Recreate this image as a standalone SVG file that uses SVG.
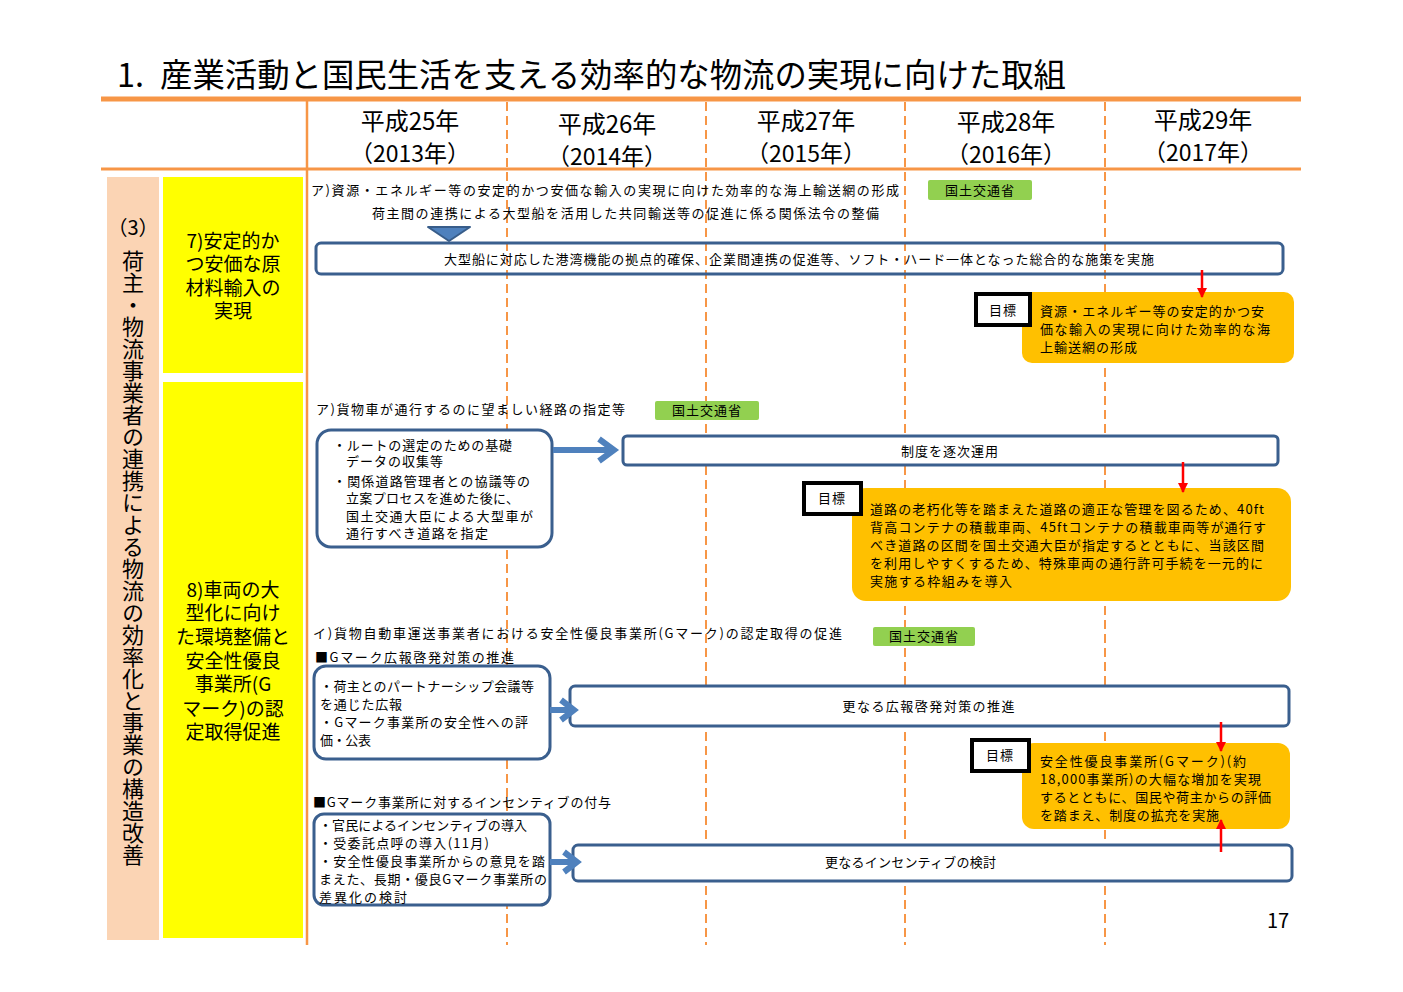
<svg xmlns="http://www.w3.org/2000/svg" width="1403" height="992" viewBox="0 0 1403 992">
<defs>
<style>
text{font-family:"Noto Sans CJK JP","Noto Sans",sans-serif;fill:#000}
.t{font-size:13px;letter-spacing:1px}
.c{text-anchor:middle}
.yr{font-size:24px;text-anchor:middle}
.yp{font-size:23px;text-anchor:middle}
.yl{font-size:19px;text-anchor:middle}
.grid{stroke:#F79646;fill:none}
.dash{stroke:#F79646;stroke-width:2;stroke-dasharray:9 5}
.bar{fill:#fff;stroke:#3A5F8E;stroke-width:3}
.gov{fill:#92D050}
.goal{fill:#FFC000}
.tag{fill:#fff;stroke:#000;stroke-width:4}
.red{stroke:#FF0000;stroke-width:2.5;fill:none}
.blu{stroke:#4F81BD;stroke-width:6;fill:none}
</style>
<marker id="ra" viewBox="0 0 10 10" refX="9" refY="5" markerWidth="10" markerHeight="10" markerUnits="userSpaceOnUse" orient="auto">
<path d="M0,0 L10,5 L0,10 z" fill="#FF0000"/>
</marker>
</defs>
<rect x="0" y="0" width="1403" height="992" fill="#fff"/>

<g id="title">
<text font-size="32.4"><tspan x="117" y="87">1.</tspan><tspan x="160" y="87">産業活動と国民生活を支える効率的な物流の実現に向けた取組</tspan></text>
</g>

<g id="grid">
<line class="grid" x1="101" y1="99" x2="1301" y2="99" stroke-width="5"/>
<line class="grid" x1="101" y1="169" x2="1301" y2="169" stroke-width="3"/>
<line class="grid" x1="307" y1="101" x2="307" y2="945" stroke-width="2.5"/>
<line class="dash" x1="507" y1="102" x2="507" y2="945"/>
<line class="dash" x1="706" y1="102" x2="706" y2="945"/>
<line class="dash" x1="905" y1="102" x2="905" y2="945"/>
<line class="dash" x1="1105" y1="102" x2="1105" y2="945"/>
</g>

<g id="years">
<text class="yr" x="410" y="130">平成25年</text>
<text class="yp" x="410" y="162">（2013年）</text>
<text class="yr" x="607" y="133">平成26年</text>
<text class="yp" x="607" y="165">（2014年）</text>
<text class="yr" x="806" y="130">平成27年</text>
<text class="yp" x="806" y="162">（2015年）</text>
<text class="yr" x="1006" y="131">平成28年</text>
<text class="yp" x="1006" y="163">（2016年）</text>
<text class="yr" x="1203" y="129">平成29年</text>
<text class="yp" x="1203" y="161">（2017年）</text>
</g>

<g id="category">
<rect x="107" y="177" width="52" height="763" fill="#FBD4B4"/>
<text x="133" y="235" font-size="20" text-anchor="middle">（3）</text>
<text x="133" y="250" font-size="22" style="writing-mode:vertical-rl">荷主・物流事業者の連携による物流の効率化と事業の構造改善</text>
</g>

<g id="item7">
<rect x="163" y="177" width="140" height="196" fill="#FFFF00"/>
<text class="yl" x="233" y="248">7)安定的か</text>
<text class="yl" x="233" y="271">つ安価な原</text>
<text class="yl" x="233" y="295">材料輸入の</text>
<text class="yl" x="233" y="318">実現</text>
</g>

<g id="item8">
<rect x="163" y="382" width="140" height="556" fill="#FFFF00"/>
<text class="yl" x="233" y="597">8)車両の大</text>
<text class="yl" x="233" y="620">型化に向け</text>
<text class="yl" x="233" y="644">た環境整備と</text>
<text class="yl" x="233" y="668">安全性優良</text>
<text class="yl" x="233" y="691">事業所(G</text>
<text class="yl" x="233" y="716">マーク)の認</text>
<text class="yl" x="233" y="739">定取得促進</text>
</g>

<g id="sec1-head">
<text class="t" x="311" y="195" textLength="589">ア)資源・エネルギー等の安定的かつ安価な輸入の実現に向けた効率的な海上輸送網の形成</text>
<rect class="gov" x="928" y="180" width="104" height="20" rx="2"/>
<text class="t c" x="980" y="195">国土交通省</text>
<text class="t" x="372" y="218" textLength="508">荷主間の連携による大型船を活用した共同輸送等の促進に係る関係法令の整備</text>
</g>

<g id="sec1-bar">
<rect x="316" y="243" width="967" height="31" rx="5" fill="none" stroke="#3A5F8E" stroke-width="3"/>
<text class="t" x="444" y="264" textLength="711">大型船に対応した港湾機能の拠点的確保、企業間連携の促進等、ソフト・ハード一体となった総合的な施策を実施</text>
</g>

<g id="sec1-goal">
<rect class="goal" x="1022" y="292" width="272" height="71" rx="10"/>
<text class="t" x="1040" y="316" textLength="225">資源・エネルギー等の安定的かつ安</text>
<text class="t" x="1040" y="334" textLength="231">価な輸入の実現に向けた効率的な海</text>
<text class="t" x="1040" y="352">上輸送網の形成</text>
<rect class="tag" x="976" y="294" width="54" height="31"/>
<text class="t c" x="1003" y="315">目標</text>
</g>

<g id="sec2-head">
<text class="t" x="316" y="414" textLength="310">ア)貨物車が通行するのに望ましい経路の指定等</text>
<rect class="gov" x="655" y="401" width="104" height="19" rx="2"/>
<text class="t c" x="707" y="415">国土交通省</text>
</g>

<g id="sec2-left">
<rect class="bar" x="317" y="430" width="235" height="117" rx="14"/>
<text class="t" x="333" y="450" textLength="180">・ルートの選定のための基礎</text>
<text class="t" x="346" y="466">データの収集等</text>
<text class="t" x="333" y="486" textLength="198">・関係道路管理者との協議等の</text>
<text class="t" x="346" y="503" textLength="174">立案プロセスを進めた後に、</text>
<text class="t" x="346" y="521" textLength="188">国土交通大臣による大型車が</text>
<text class="t" x="346" y="538" textLength="143">通行すべき道路を指定</text>
</g>

<g id="sec2-bar">
<rect class="bar" x="623" y="436" width="655" height="29" rx="4"/>
<text class="t c" x="950" y="456">制度を逐次運用</text>
</g>

<g id="sec2-goal">
<rect class="goal" x="852" y="488" width="439" height="113" rx="14"/>
<text class="t" x="870" y="514" textLength="395">道路の老朽化等を踏まえた道路の適正な管理を図るため、40ft</text>
<text class="t" x="870" y="532" textLength="397">背高コンテナの積載車両、45ftコンテナの積載車両等が通行す</text>
<text class="t" x="870" y="550" textLength="395">べき道路の区間を国土交通大臣が指定するとともに、当該区間</text>
<text class="t" x="870" y="568" textLength="394">を利用しやすくするため、特殊車両の通行許可手続を一元的に</text>
<text class="t" x="870" y="586" textLength="143">実施する枠組みを導入</text>
<rect class="tag" x="804" y="483" width="57" height="31"/>
<text class="t c" x="832" y="503">目標</text>
</g>

<g id="sec3-head">
<text class="t" x="313" y="638" textLength="530">イ)貨物自動車運送事業者における安全性優良事業所(Gマーク)の認定取得の促進</text>
<rect class="gov" x="873" y="627" width="102" height="19" rx="2"/>
<text class="t c" x="924" y="641">国土交通省</text>
<text class="t" x="315" y="662" textLength="200">■Gマーク広報啓発対策の推進</text>
</g>

<g id="sec3-left">
<rect class="bar" x="314" y="666" width="236" height="93" rx="12"/>
<text class="t" x="320" y="691" textLength="215">・荷主とのパートナーシップ会議等</text>
<text class="t" x="320" y="709" textLength="83">を通じた広報</text>
<text class="t" x="320" y="727" textLength="209">・Gマーク事業所の安全性への評</text>
<text class="t" x="320" y="745" textLength="52">価・公表</text>
</g>

<g id="sec3-bar">
<rect class="bar" x="570" y="686" width="719" height="40" rx="5"/>
<text class="t c" x="929" y="711" textLength="173">更なる広報啓発対策の推進</text>
</g>

<g id="sec3-goal">
<rect class="goal" x="1022" y="743" width="268" height="86" rx="12"/>
<text class="t" x="1040" y="766" textLength="207">安全性優良事業所(Gマーク)(約</text>
<text class="t" x="1040" y="784" textLength="222">18,000事業所)の大幅な増加を実現</text>
<text class="t" x="1040" y="802" textLength="232">するとともに、国民や荷主からの評価</text>
<text class="t" x="1040" y="820" textLength="180">を踏まえ、制度の拡充を実施</text>
<rect class="tag" x="972" y="740" width="57" height="31"/>
<text class="t c" x="1000" y="760">目標</text>
</g>

<g id="sec4-head">
<text class="t" x="313" y="807" textLength="299">■Gマーク事業所に対するインセンティブの付与</text>
</g>

<g id="sec4-left">
<rect class="bar" x="314" y="814" width="236" height="91" rx="10"/>
<text class="t" x="319" y="830" textLength="209">・官民によるインセンティブの導入</text>
<text class="t" x="319" y="848" textLength="171">・受委託点呼の導入(11月)</text>
<text class="t" x="319" y="866" textLength="227">・安全性優良事業所からの意見を踏</text>
<text class="t" x="319" y="884" textLength="229">まえた、長期・優良Gマーク事業所の</text>
<text class="t" x="319" y="902" textLength="89">差異化の検討</text>
</g>

<g id="sec4-bar">
<rect class="bar" x="573" y="845" width="719" height="36" rx="5"/>
<text class="t c" x="911" y="867" textLength="172">更なるインセンティブの検討</text>
</g>

<g id="connectors">
<polygon points="428,227 470,227 449,241" fill="#4F81BD" stroke="#385D8A" stroke-width="2" stroke-linejoin="round"/>
<line class="red" x1="1202" y1="270" x2="1202" y2="297" marker-end="url(#ra)"/>
<line class="red" x1="1183" y1="462" x2="1183" y2="492" marker-end="url(#ra)"/>
<line class="red" x1="1221" y1="722" x2="1221" y2="751" marker-end="url(#ra)"/>
<line class="red" x1="1221" y1="852" x2="1221" y2="820" marker-end="url(#ra)"/>
<line class="blu" x1="553" y1="450" x2="613" y2="450"/>
<polyline class="blu" points="599,439 614,450 599,461"/>
<line class="blu" x1="550" y1="710" x2="572" y2="710"/>
<polyline class="blu" points="561,700 574,710 561,720"/>
<line class="blu" x1="550" y1="862" x2="575" y2="862"/>
<polyline class="blu" points="564,852 577,862 564,872"/>
</g>

<g id="page">
<text x="1278" y="928" font-size="20" text-anchor="middle">17</text>
</g>
</svg>
